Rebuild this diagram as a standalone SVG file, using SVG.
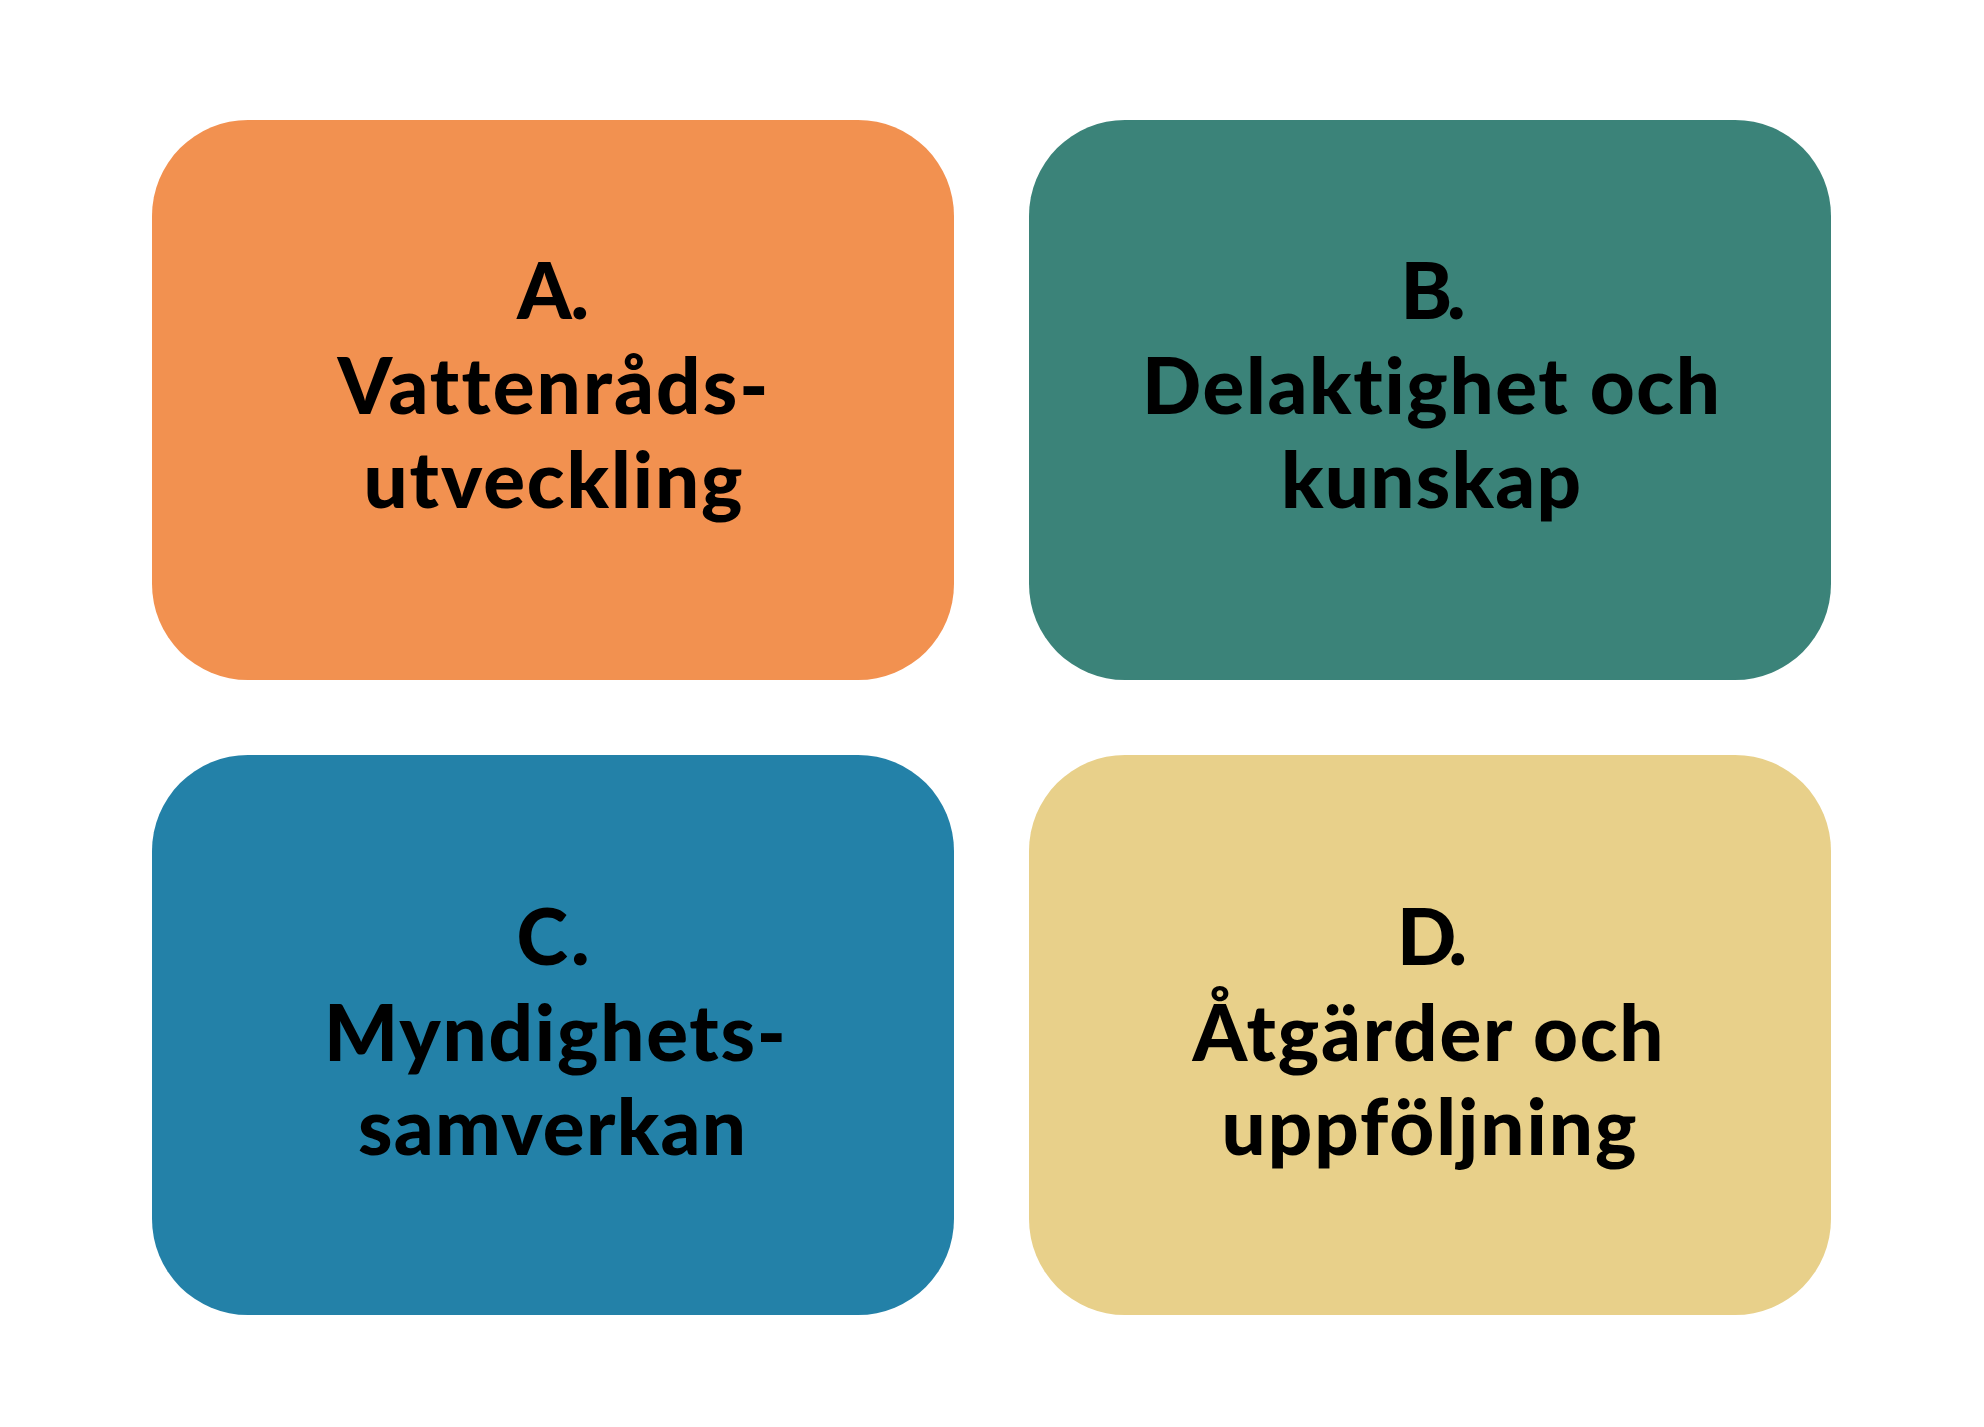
<svg xmlns="http://www.w3.org/2000/svg" width="1984" height="1427" viewBox="0 0 1984 1427">
<style>
.box{stroke:none}
.t{font-family:Lato,"Noto Sans","Liberation Sans",sans-serif;font-weight:900;font-size:78px;fill:#000;text-anchor:middle;font-variant-ligatures:none;font-feature-settings:"liga" 0,"clig" 0}
</style>
<rect width="1984" height="1427" fill="#ffffff"/>
<g id="node-a">
<rect class="box" x="152" y="120" width="802" height="560" rx="96" ry="96" fill="#F29150"/>
<text class="t" x="553" y="319" textLength="72" lengthAdjust="spacing">A.</text>
<text class="t" x="553" y="414" textLength="431" lengthAdjust="spacing">Vattenråds-</text>
<text class="t" x="553" y="508" textLength="379" lengthAdjust="spacing">utveckling</text>
</g>
<g id="node-b">
<rect class="box" x="1029" y="120" width="802" height="560" rx="96" ry="96" fill="#3B8379"/>
<text class="t" x="1433" y="319" textLength="65" lengthAdjust="spacing">B.</text>
<text class="t" x="1431" y="414" textLength="578" lengthAdjust="spacing">Delaktighet och</text>
<text class="t" x="1431" y="508" textLength="300" lengthAdjust="spacing">kunskap</text>
</g>
<g id="node-c">
<rect class="box" x="152" y="755" width="802" height="560" rx="96" ry="96" fill="#2381A8"/>
<text class="t" x="553" y="965" textLength="73" lengthAdjust="spacing">C.</text>
<text class="t" x="555" y="1061" textLength="462" lengthAdjust="spacing">Myndighets-</text>
<text class="t" x="552" y="1155" textLength="388" lengthAdjust="spacing">samverkan</text>
</g>
<g id="node-d">
<rect class="box" x="1029" y="755" width="802" height="560" rx="96" ry="96" fill="#E8D08A"/>
<text class="t" x="1432" y="965" textLength="70" lengthAdjust="spacing">D.</text>
<text class="t" x="1428" y="1061" textLength="471" lengthAdjust="spacing">Åtgärder och</text>
<text class="t" x="1429" y="1155" textLength="415" lengthAdjust="spacing">uppföljning</text>
</g>
<g id="connectors"></g>
</svg>
